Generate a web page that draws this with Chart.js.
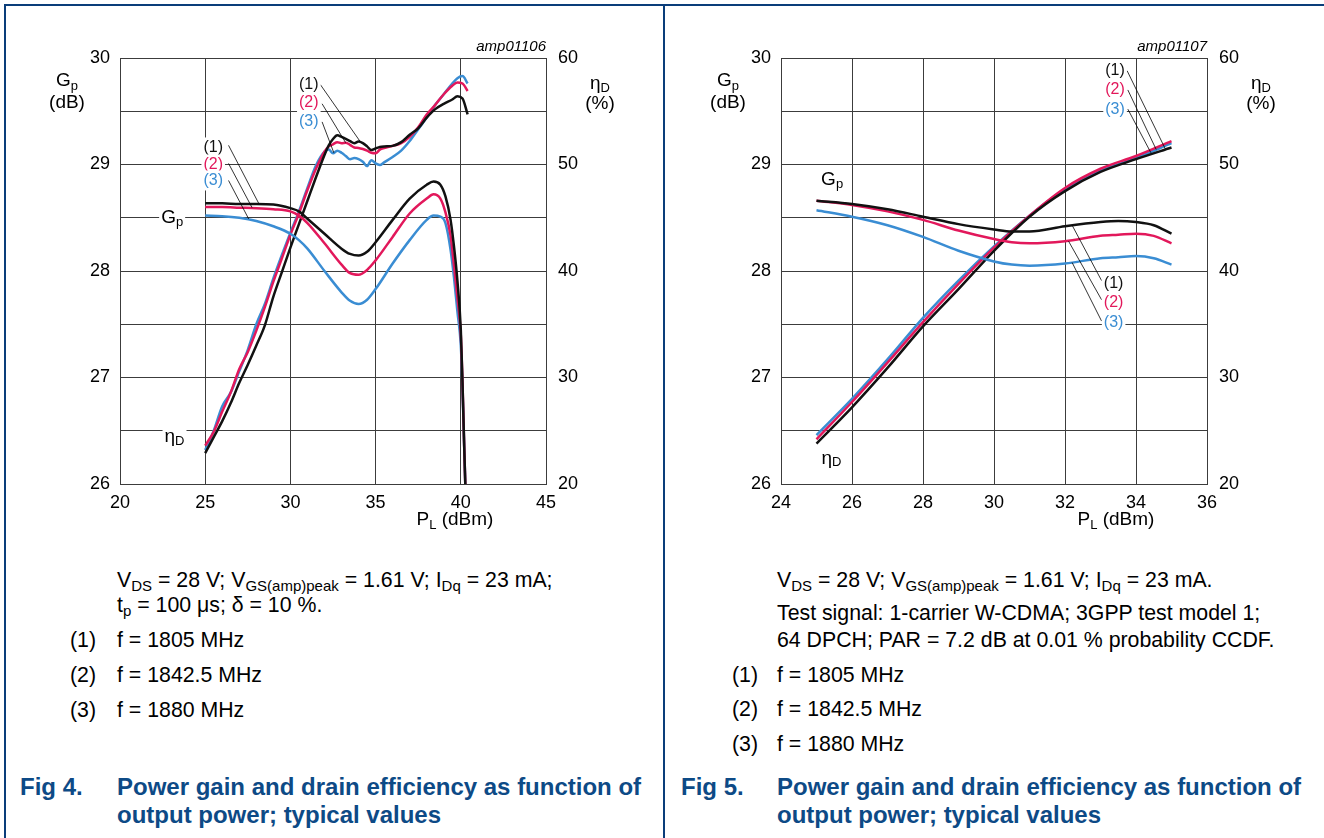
<!DOCTYPE html>
<html>
<head>
<meta charset="utf-8">
<title>Power gain and drain efficiency as function of output power</title>
<script src="https://cdn.jsdelivr.net/npm/chart.js@4.4.1/dist/chart.umd.min.js"></script>
<style>
  body { margin: 0; background: #fff; font-family: "Liberation Sans", Arial, sans-serif; }
  #page { position: relative; width: 1324px; height: 838px; overflow: hidden; }
  .rule { position: absolute; background: #0a3d7a; z-index: 2; }
  canvas { position: absolute; top: 0; }
  .txt { position: absolute; font-size: 21.3px; line-height: 25px; color: #000; white-space: nowrap; }
  .txt sub { font-size: 15px; vertical-align: -4px; line-height: 0; }
  .cap { position: absolute; font-size: 24px; line-height: 28px; font-weight: bold; color: #0d4a86; white-space: nowrap; }
</style>
</head>
<body>
<div id="page">
  <div class="rule" style="left:4px;top:4px;width:1320px;height:2px"></div>
  <div class="rule" style="left:4px;top:4px;width:2px;height:834px"></div>
  <div class="rule" style="left:663px;top:4px;width:2px;height:834px"></div>

  <canvas id="fig4" width="664" height="540" style="left:0"></canvas>
  <canvas id="fig5" width="664" height="540" style="left:661px"></canvas>

  <div class="txt" style="left:117px;top:568px">V<sub>DS</sub> = 28 V; V<sub>GS(amp)peak</sub> = 1.61 V; I<sub>Dq</sub> = 23 mA;<br>t<sub>p</sub> = 100 &mu;s; &delta; = 10 %.</div>
  <div class="txt" style="left:70px;top:628px">(1)</div><div class="txt" style="left:117px;top:628px">f = 1805 MHz</div>
  <div class="txt" style="left:70px;top:663px">(2)</div><div class="txt" style="left:117px;top:663px">f = 1842.5 MHz</div>
  <div class="txt" style="left:70px;top:698px">(3)</div><div class="txt" style="left:117px;top:698px">f = 1880 MHz</div>
  <div class="cap" style="left:20px;top:773px">Fig 4.</div>
  <div class="cap" style="left:117px;top:773px">Power gain and drain efficiency as function of<br>output power; typical values</div>

  <div class="txt" style="left:777px;top:568px">V<sub>DS</sub> = 28 V; V<sub>GS(amp)peak</sub> = 1.61 V; I<sub>Dq</sub> = 23 mA.</div>
  <div class="txt" style="left:777px;top:601px">Test signal: 1-carrier W-CDMA; 3GPP test model 1;</div>
  <div class="txt" style="left:777px;top:628px">64 DPCH; PAR = 7.2 dB at 0.01 % probability CCDF.</div>
  <div class="txt" style="left:732px;top:663px">(1)</div><div class="txt" style="left:777px;top:663px">f = 1805 MHz</div>
  <div class="txt" style="left:732px;top:697px">(2)</div><div class="txt" style="left:777px;top:697px">f = 1842.5 MHz</div>
  <div class="txt" style="left:732px;top:732px">(3)</div><div class="txt" style="left:777px;top:732px">f = 1880 MHz</div>
  <div class="cap" style="left:681px;top:773px">Fig 5.</div>
  <div class="cap" style="left:777px;top:773px">Power gain and drain efficiency as function of<br>output power; typical values</div>
</div>

<script>
const FONT = '"Liberation Sans", Arial, sans-serif';
Chart.defaults.font.family = FONT;
Chart.defaults.color = '#000';

const BLACK = '#111111', RED = '#e2185b', BLUE = '#3a8dd3', GRID = '#3c3c3c';

// tick labels shared by both figures: Gp (dB) left, efficiency (%) right
const gainTicks = [26, 27, 28, 29, 30];
const effTicks = [20, 30, 40, 50, 60];

// Fig 4 - pulsed, PL (dBm)
const fig4PowerTicks = [20, 25, 30, 35, 40, 45];
const fig4GainX = [25, 26, 27, 28, 29, 30, 30.5, 31, 32, 33, 33.5, 34, 34.5, 35, 36, 37, 38, 38.4, 38.8, 39.1, 39.4, 39.6, 39.8, 40, 40.1, 40.2, 40.3];
const fig4Gain1805 = [28.635, 28.635, 28.63, 28.63, 28.625, 28.59, 28.56, 28.49, 28.35, 28.21, 28.16, 28.145, 28.18, 28.27, 28.48, 28.68, 28.81, 28.84, 28.81, 28.70, 28.48, 28.23, 27.91, 27.45, 26.95, 26.35, 25.8];
const fig4Gain1842 = [28.60, 28.60, 28.595, 28.59, 28.58, 28.56, 28.52, 28.45, 28.26, 28.06, 27.98, 27.965, 28.01, 28.10, 28.32, 28.54, 28.68, 28.72, 28.68, 28.55, 28.33, 28.05, 27.75, 27.40, 26.95, 26.35, 25.8];
const fig4Gain1880 = [28.52, 28.515, 28.50, 28.47, 28.42, 28.35, 28.29, 28.21, 28.00, 27.80, 27.72, 27.69, 27.73, 27.83, 28.07, 28.29, 28.48, 28.52, 28.51, 28.45, 28.20, 27.94, 27.62, 27.30, 26.90, 26.35, 25.8];
const fig4EffX = [25, 25.5, 26, 26.5, 27, 27.5, 28, 28.5, 29, 29.5, 30, 30.5, 31, 31.5, 32, 32.25, 32.5, 32.75, 33, 33.25, 33.5, 33.75, 34, 34.25, 34.5, 34.75, 35, 35.25, 35.5, 36, 36.5, 37, 37.5, 38, 38.5, 39, 39.5, 39.8, 40.1, 40.4];
const fig4Eff1805 = [22.9, 24.4, 25.9, 27.6, 29.5, 31.2, 33.0, 34.9, 37.6, 39.9, 42.2, 44.4, 46.6, 48.8, 50.9, 51.8, 52.4, 52.75, 52.6, 52.4, 52.2, 52.0, 52.15, 52.0, 51.7, 51.35, 51.5, 51.65, 51.7, 51.75, 52.1, 52.8, 53.4, 54.4, 55.2, 55.7, 56.1, 56.4, 56.2, 54.7];
const fig4Eff1842 = [23.6, 24.9, 26.8, 28.6, 30.8, 32.4, 34.4, 36.6, 39.0, 41.2, 43.4, 45.4, 47.6, 49.6, 51.2, 51.7, 51.9, 52.1, 52.0, 52.05, 51.85, 51.6, 51.55, 51.45, 51.3, 51.1, 51.05, 51.4, 51.55, 51.75, 52.0, 52.6, 53.5, 54.7, 55.6, 56.6, 57.4, 57.7, 57.6, 56.9];
const fig4Eff1880 = [23.2, 25.0, 27.3, 28.6, 30.6, 32.6, 35.0, 36.9, 39.3, 41.5, 43.6, 45.6, 47.8, 49.9, 51.2, 51.4, 51.05, 51.3, 51.1, 50.8, 50.5, 50.6, 50.5, 50.25, 49.85, 50.4, 50.1, 49.95, 50.2, 50.7, 51.3, 52.2, 53.3, 54.4, 55.6, 56.6, 57.6, 58.1, 58.3, 57.6];

// Fig 5 - 1-carrier W-CDMA, PL (dBm)
const fig5PowerTicks = [24, 26, 28, 30, 32, 34, 36];
const fig5GainX = [25, 26, 27, 28, 29, 30, 30.5, 31, 32, 33, 33.5, 34, 34.5, 35];
const fig5Gain1805 = [28.66, 28.63, 28.58, 28.51, 28.44, 28.39, 28.37, 28.37, 28.42, 28.46, 28.47, 28.46, 28.43, 28.35];
const fig5Gain1842 = [28.66, 28.62, 28.56, 28.48, 28.38, 28.30, 28.27, 28.26, 28.28, 28.33, 28.34, 28.35, 28.33, 28.26];
const fig5Gain1880 = [28.57, 28.51, 28.43, 28.32, 28.19, 28.09, 28.06, 28.05, 28.07, 28.12, 28.13, 28.14, 28.12, 28.06];
const fig5EffX = [25, 26, 27, 28, 29, 30, 31, 32, 33, 34, 35];
const fig5Eff1805 = [23.8, 27.2, 30.9, 34.8, 38.3, 41.9, 45.1, 47.5, 49.3, 50.5, 51.6];
const fig5Eff1842 = [24.2, 27.7, 31.4, 35.2, 38.8, 42.2, 45.2, 47.8, 49.6, 50.8, 52.2];
const fig5Eff1880 = [24.6, 28.0, 31.7, 35.6, 39.1, 42.3, 45.2, 47.7, 49.4, 50.6, 52.0];

const pts = (xs, ys) => xs.map((x, i) => ({ x: x, y: ys[i] }));

// text with subscripts: parts = [[text, size, dy], ...]
function rich(ctx, parts, x, y, align, color, patch) {
  let w = 0;
  parts.forEach(p => { ctx.font = p[1] + 'px ' + FONT; w += ctx.measureText(p[0]).width; });
  let cx = align === 'center' ? x - w / 2 : (align === 'right' ? x - w : x);
  if (patch) {
    ctx.fillStyle = '#fff';
    ctx.fillRect(cx - 2, y - 10, w + 4, 20);
  }
  ctx.fillStyle = color || '#000';
  ctx.textAlign = 'left';
  ctx.textBaseline = 'middle';
  parts.forEach(p => {
    ctx.font = p[1] + 'px ' + FONT;
    ctx.fillText(p[0], cx, y + (p[2] || 0));
    cx += ctx.measureText(p[0]).width;
  });
}

const notesPlugin = {
  id: 'notes',
  afterDatasetsDraw(chart, args, opts) {
    const ctx = chart.ctx, a = chart.chartArea;
    const xs = chart.scales.x, ys = chart.scales.y;
    const px = v => xs.getPixelForValue(v), py = v => ys.getPixelForValue(v);
    ctx.save();
    ctx.strokeStyle = '#000';
    ctx.lineWidth = 0.8;
    opts.leaders.forEach(l => {
      ctx.beginPath();
      ctx.moveTo(px(l[0]), py(l[1]));
      ctx.lineTo(px(l[2]), py(l[3]));
      ctx.stroke();
    });
    opts.labels.forEach(l => rich(ctx, [[l[0], 16]], px(l[1]), py(l[2]), 'center', l[3], true));
    rich(ctx, [['G', 19], ['p', 13, 5]], px(opts.gp[0]), py(opts.gp[1]), 'center', '#000', true);
    rich(ctx, [['\u03B7', 19], ['D', 13, 4]], px(opts.eta[0]), py(opts.eta[1]), 'center', '#000', true);

    // axis titles
    rich(ctx, [['G', 19], ['p', 13, 5]], a.left - 53, 81, 'center');
    rich(ctx, [['(dB)', 19]], a.left - 53, 103, 'center');
    rich(ctx, [['\u03B7', 19], ['D', 13, 4]], a.right + 54, 84, 'center');
    rich(ctx, [['(%)', 19]], a.right + 54, 104, 'center');
    rich(ctx, [['P', 19], ['L', 13, 5], [' (dBm)', 19]], a.right - 91, 520, 'center');

    ctx.font = 'italic 15px ' + FONT;
    ctx.textAlign = 'right';
    ctx.textBaseline = 'middle';
    ctx.fillStyle = '#000';
    ctx.fillText(opts.tag, a.right, a.top - 11);
    ctx.restore();
  }
};

function buildChart(id, xTicks, gainX, gains, effX, effs, notes) {
  const colors = [BLACK, RED, BLUE];
  const datasets = [];
  gains.forEach((g, i) => datasets.push({ data: pts(gainX, g), yAxisID: 'y', borderColor: colors[i] }));
  effs.forEach((e, i) => datasets.push({ data: pts(effX, e), yAxisID: 'y2', borderColor: colors[i] }));

  return new Chart(document.getElementById(id), {
    type: 'line',
    data: { datasets: datasets },
    options: {
      responsive: false,
      animation: false,
      layout: { padding: { top: 58, left: 0, right: 0, bottom: 0 } },
      elements: {
        point: { radius: 0 },
        line: { borderWidth: 2.5, cubicInterpolationMode: 'monotone' }
      },
      plugins: { legend: { display: false }, tooltip: { enabled: false }, notes: notes },
      scales: {
        x: {
          type: 'linear',
          min: xTicks[0],
          max: xTicks[xTicks.length - 1],
          afterBuildTicks: s => { s.ticks = xTicks.map(v => ({ value: v })); },
          ticks: { font: { size: 18 }, padding: 8, maxRotation: 0, autoSkip: false },
          grid: { color: GRID, drawTicks: false },
          border: { color: GRID },
          afterFit: s => { s.height = 56; }
        },
        y: {
          type: 'linear',
          position: 'left',
          min: 26,
          max: 30,
          ticks: {
            stepSize: 0.5,
            autoSkip: false,
            font: { size: 18 },
            padding: 10,
            callback: v => gainTicks.includes(v) ? v : ''
          },
          grid: { color: GRID, drawTicks: false },
          border: { color: GRID },
          afterFit: s => { s.width = 120; }
        },
        y2: {
          type: 'linear',
          position: 'right',
          min: 20,
          max: 60,
          afterBuildTicks: s => { s.ticks = effTicks.map(v => ({ value: v })); },
          ticks: { font: { size: 18 }, padding: 12 },
          grid: { display: false, drawTicks: false },
          border: { color: GRID },
          afterFit: s => { s.width = 118; }
        }
      }
    },
    plugins: [notesPlugin]
  });
}

buildChart('fig4', fig4PowerTicks, fig4GainX, [fig4Gain1805, fig4Gain1842, fig4Gain1880],
  fig4EffX, [fig4Eff1805, fig4Eff1842, fig4Eff1880], {
    tag: 'amp01106',
    gp: [23.06, 28.5],
    eta: [23.2, 26.44],
    labels: [
      ['(1)', 25.47, 29.16, BLACK], ['(2)', 25.47, 29.0, RED], ['(3)', 25.47, 28.85, BLUE],
      ['(1)', 31.08, 29.75, BLACK], ['(2)', 31.08, 29.58, RED], ['(3)', 31.08, 29.40, BLUE]
    ],
    leaders: [
      [26.37, 29.18, 28.14, 28.635], [26.37, 29.01, 27.75, 28.595], [26.37, 28.85, 27.55, 28.49],
      [31.76, 29.75, 34.12, 29.21], [31.86, 29.57, 33.24, 29.205], [31.86, 29.40, 32.55, 29.11]
    ]
  });

buildChart('fig5', fig5PowerTicks, fig5GainX, [fig5Gain1805, fig5Gain1842, fig5Gain1880],
  fig5EffX, [fig5Eff1805, fig5Eff1842, fig5Eff1880], {
    tag: 'amp01107',
    gp: [25.44, 28.86],
    eta: [25.42, 26.24],
    labels: [
      ['(1)', 33.41, 29.88, BLACK], ['(2)', 33.41, 29.70, RED], ['(3)', 33.41, 29.52, BLUE],
      ['(1)', 33.37, 27.88, BLACK], ['(2)', 33.37, 27.70, RED], ['(3)', 33.37, 27.515, BLUE]
    ],
    leaders: [
      [33.75, 29.88, 34.82, 29.15], [33.77, 29.70, 34.57, 29.14], [33.77, 29.52, 34.42, 29.11],
      [33.03, 27.91, 32.2, 28.43], [33.03, 27.73, 32.1, 28.28], [33.03, 27.53, 32.2, 28.08]
    ]
  });
</script>
</body>
</html>
